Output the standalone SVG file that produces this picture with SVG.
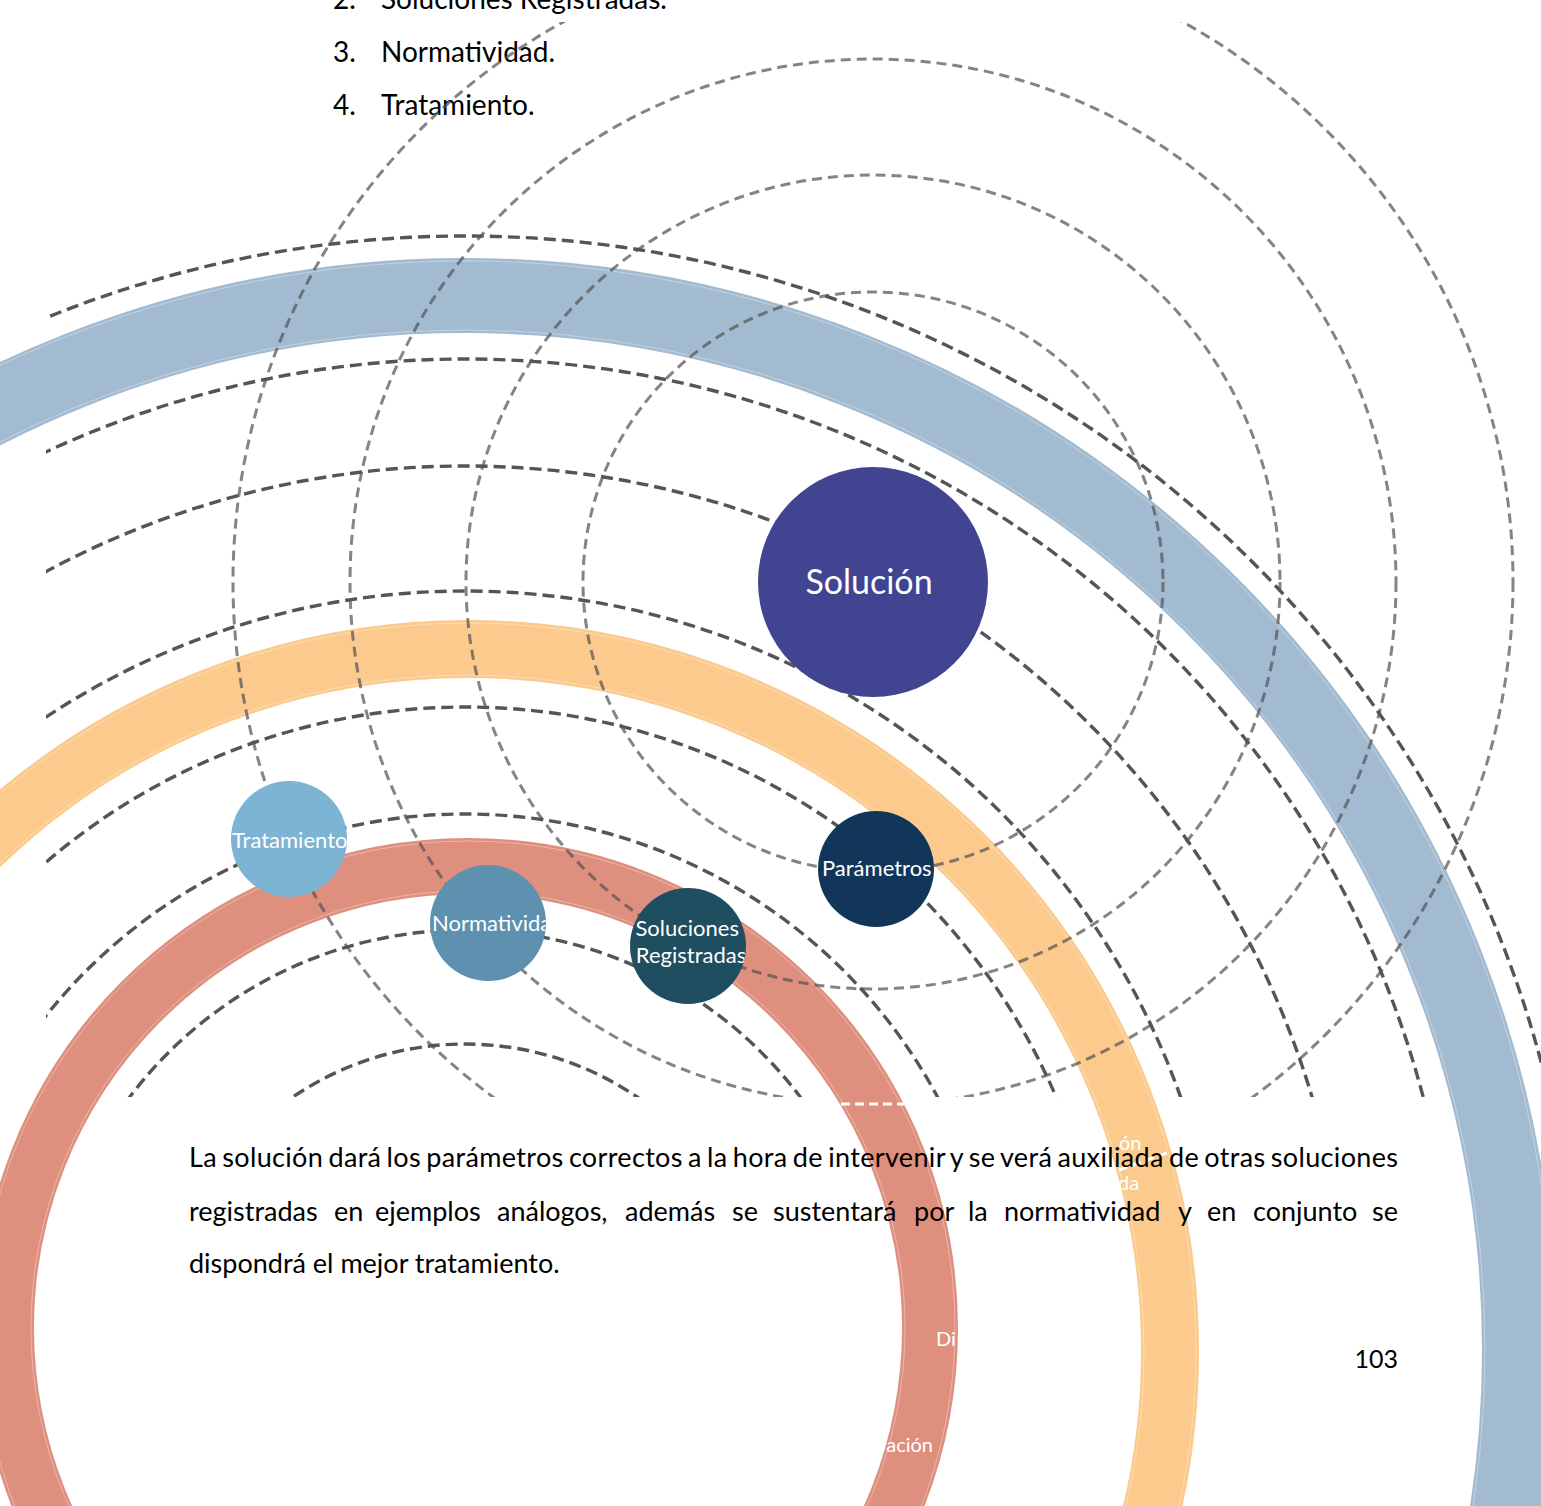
<svg xmlns="http://www.w3.org/2000/svg" width="1541" height="1506" viewBox="0 0 1541 1506">
  <defs>
    <style>
      .txt { font-family: Lato, "Open Sans", "Liberation Sans", sans-serif; }
      .ring { fill: none; }
      .edge { fill: none; stroke: #ffffff; stroke-opacity: 0.35; stroke-width: 1; }
      .gray { fill: none; stroke: #555555; stroke-opacity: 0.72; stroke-width: 3; stroke-dasharray: 10 6; }
      .dark { fill: none; stroke: #555555; stroke-width: 3.4; stroke-dasharray: 12 6; }
      .wdash { fill: none; stroke: #ffffff; stroke-width: 3; stroke-dasharray: 9 5; }
      .wlabel { fill: #ffffff; font-size: 20px; }
      .nlabel { fill: #ffffff; font-size: 22px; }
      .body { fill: #000000; font-size: 27px; }
      .list { fill: #000000; font-size: 28px; }
    </style>
    <clipPath id="clipGray"><rect x="0" y="22" width="1541" height="1075"/></clipPath>
    <clipPath id="clipDark"><rect x="46" y="0" width="1495" height="1097"/></clipPath>
    <clipPath id="cSol"><circle cx="873" cy="582" r="115"/></clipPath>
    <clipPath id="cPar"><circle cx="876" cy="869" r="58"/></clipPath>
    <clipPath id="cReg"><circle cx="688" cy="946" r="58"/></clipPath>
    <clipPath id="cNor"><circle cx="488" cy="923" r="58"/></clipPath>
    <clipPath id="cTra"><circle cx="289" cy="839" r="58"/></clipPath>
  </defs>

  <rect width="1541" height="1506" fill="#ffffff"/>

  <!-- numbered list above the figure -->
  <g id="list" class="txt list">
    <text x="333" y="9">2.</text><text x="381" y="9">Soluciones Registradas.</text>
    <text x="333" y="62">3.</text><text x="381" y="62">Normatividad.</text>
    <text x="333" y="115">4.</text><text x="381" y="115">Tratamiento.</text>
  </g>

  <!-- concentric bands -->
  <g id="rings">
    <circle class="ring" cx="465" cy="1350" r="1054.5" stroke="#A2BBD1" stroke-width="75"/>
    <circle class="edge" cx="465" cy="1350" r="1089"/>
    <circle class="edge" cx="465" cy="1350" r="1020"/>
    <circle class="ring" cx="468" cy="1351" r="702" stroke="#FBCA8C" stroke-width="58"/>
    <circle class="edge" cx="468" cy="1351" r="728"/>
    <circle class="edge" cx="468" cy="1351" r="676"/>
    <circle class="ring" cx="468" cy="1328" r="462" stroke="#DE8F7E" stroke-width="56"/>
    <circle class="edge" cx="468" cy="1328" r="487"/>
    <circle class="edge" cx="468" cy="1328" r="437"/>
  </g>

  <!-- dashed guide lines -->
  <g id="connectors">
    <g clip-path="url(#clipGray)">
      <circle class="gray" cx="873" cy="582" r="290"/>
      <circle class="gray" cx="873" cy="582" r="407"/>
      <circle class="gray" cx="873" cy="582" r="523"/>
      <circle class="gray" cx="873" cy="582" r="640"/>
    </g>
    <g clip-path="url(#clipDark)">
      <circle class="dark" cx="465" cy="1350" r="1114"/>
      <circle class="dark" cx="465" cy="1350" r="991"/>
      <circle class="dark" cx="465" cy="1350" r="884"/>
      <circle class="dark" cx="465" cy="1350" r="759"/>
      <circle class="dark" cx="465" cy="1350" r="643"/>
      <circle class="dark" cx="465" cy="1350" r="536"/>
      <circle class="dark" cx="465" cy="1350" r="420"/>
      <circle class="dark" cx="465" cy="1350" r="306"/>
    </g>
    <path class="wdash" d="M841 1104 L904 1104"/>
    <path class="wdash" d="M1119 1170 L1172 1151"/>
  </g>

  <!-- band labels (white) -->
  <g id="band-labels" class="txt">
    <text class="wlabel" x="1119" y="1150">ón</text>
    <text class="wlabel" x="1118" y="1190">da</text>
    <text class="wlabel" x="936" y="1346">Di</text>
    <text class="wlabel" x="933" y="1452" text-anchor="end">ación</text>
  </g>

  <!-- nodes -->
  <g id="node-solucion">
    <circle cx="873" cy="582" r="115" fill="#404491"/>
    <text class="txt" x="869" y="594" font-size="34" fill="#ffffff" text-anchor="middle" clip-path="url(#cSol)">Solución</text>
  </g>
  <g id="node-parametros">
    <circle cx="876" cy="869" r="58" fill="#12365A"/>
    <text class="txt nlabel" x="822" y="876" clip-path="url(#cPar)">Parámetros</text>
  </g>
  <g id="node-soluciones-registradas">
    <circle cx="688" cy="946" r="58" fill="#1E4E5F"/>
    <text class="txt nlabel" text-anchor="middle" clip-path="url(#cReg)">
      <tspan x="690" y="936">Soluciones</tspan>
      <tspan x="691" y="963">Registradas</tspan>
    </text>
  </g>
  <g id="node-normatividad">
    <circle cx="488" cy="923" r="58" fill="#5E90AF"/>
    <text class="txt nlabel" x="432" y="931" clip-path="url(#cNor)">Normatividad</text>
  </g>
  <g id="node-tratamiento">
    <circle cx="289" cy="839" r="58" fill="#7DB4D3"/>
    <text class="txt nlabel" x="232" y="848" font-size="23" clip-path="url(#cTra)">Tratamiento</text>
  </g>

  <!-- body paragraph -->
  <g id="paragraph" class="txt body">
    <text x="189" y="1167" textLength="1209" lengthAdjust="spacing" word-spacing="-2">La solución dará los parámetros correctos a la hora de intervenir y se verá auxiliada de otras soluciones</text>
    <text y="1221">
      <tspan x="189">registradas</tspan>
      <tspan x="334">en</tspan>
      <tspan x="375">ejemplos</tspan>
      <tspan x="497">análogos,</tspan>
      <tspan x="625">además</tspan>
      <tspan x="732">se</tspan>
      <tspan x="773">sustentará</tspan>
      <tspan x="914">por</tspan>
      <tspan x="968">la</tspan>
      <tspan x="1004">normatividad</tspan>
      <tspan x="1178">y</tspan>
      <tspan x="1207">en</tspan>
      <tspan x="1253">conjunto</tspan>
      <tspan x="1398" text-anchor="end">se</tspan>
    </text>
    <text x="189" y="1273">dispondrá el mejor tratamiento.</text>
    <text x="1398" y="1368" text-anchor="end" font-size="25">103</text>
  </g>
</svg>
